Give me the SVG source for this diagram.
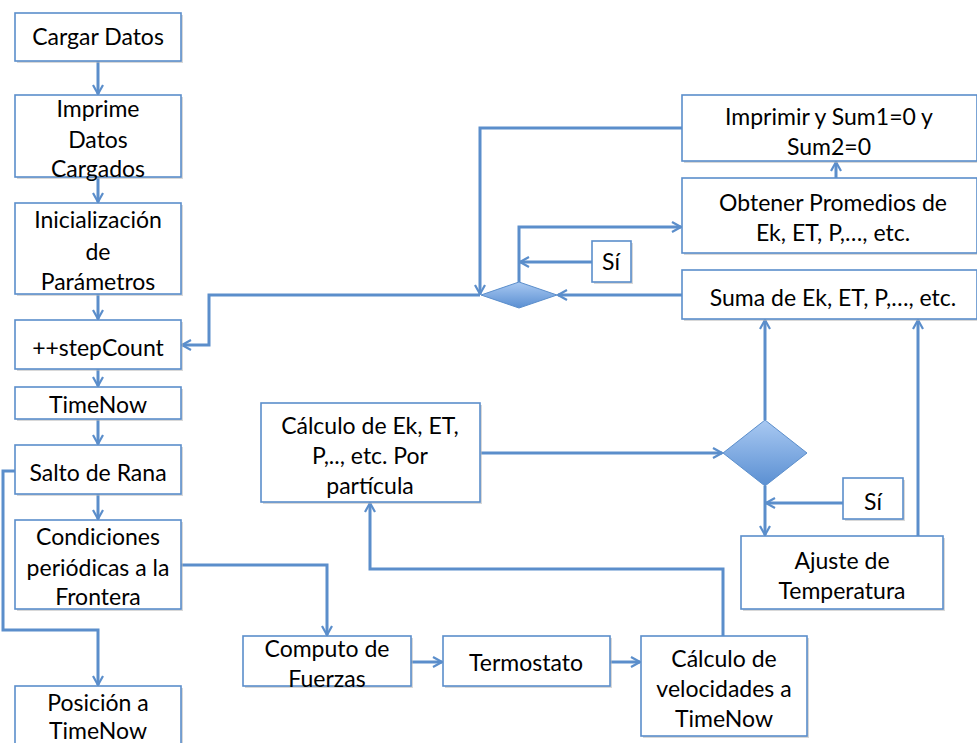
<svg xmlns="http://www.w3.org/2000/svg" width="977" height="743" viewBox="0 0 977 743">
  <style>
    .box { fill: #ffffff; stroke: #5b8ecb; stroke-width: 1.6; }
    .shadow { fill: #b8b8b8; opacity: 0.55; }
    .label { font-family: Lato, "Liberation Sans", sans-serif; font-size: 23px; fill: #000; text-anchor: middle; }
    .conn { fill: none; stroke: #5b8ecb; stroke-width: 3; stroke-linejoin: miter; }
    .dia { fill: url(#diaFill); stroke: #5b8ecb; stroke-width: 1; }
  </style>
  <defs>
    <linearGradient id="diaFill" x1="0" y1="0" x2="0" y2="1">
      <stop offset="0" stop-color="#a9c9f2"/>
      <stop offset="1" stop-color="#5a8fd2"/>
    </linearGradient>
    <marker id="arrow" viewBox="0 0 12 12" refX="11" refY="6" markerWidth="12" markerHeight="12" markerUnits="userSpaceOnUse" orient="auto">
      <polyline points="2,1 11,6 2,11" fill="none" stroke="#5b8ecb" stroke-width="2.2"/>
    </marker>
  </defs>

  <!-- connectors -->
  <g id="connectors">
    <path class="conn" marker-end="url(#arrow)" d="M98,61 V94"/>
    <path class="conn" marker-end="url(#arrow)" d="M98,177 V202"/>
    <path class="conn" marker-end="url(#arrow)" d="M98,294 V319"/>
    <path class="conn" marker-end="url(#arrow)" d="M98,369 V386"/>
    <path class="conn" marker-end="url(#arrow)" d="M98,419 V444"/>
    <path class="conn" marker-end="url(#arrow)" d="M98,494 V519"/>
    <!-- Salto de Rana -> Posición -->
    <path class="conn" marker-end="url(#arrow)" d="M15,471 H3 V630 H98 V685"/>
    <!-- Condiciones -> Computo de Fuerzas -->
    <path class="conn" marker-end="url(#arrow)" d="M181,565 H327 V635"/>
    <path class="conn" marker-end="url(#arrow)" d="M411,662 H442"/>
    <path class="conn" marker-end="url(#arrow)" d="M610,662 H640"/>
    <!-- Cálculo velocidades -> Cálculo por partícula -->
    <path class="conn" marker-end="url(#arrow)" d="M723,636 V569 H370 V503"/>
    <!-- Cálculo por partícula -> decision -->
    <path class="conn" marker-end="url(#arrow)" d="M481,453 H722"/>
    <path class="conn" marker-end="url(#arrow)" d="M765,420 V320"/>
    <path class="conn" marker-end="url(#arrow)" d="M843,503 H766"/>
    <path class="conn" marker-end="url(#arrow)" d="M765,486 V535"/>
    <path class="conn" marker-end="url(#arrow)" d="M918,536 V320"/>
    <!-- upper loop -->
    <path class="conn" marker-end="url(#arrow)" d="M682,295 H558"/>
    <path class="conn" marker-end="url(#arrow)" d="M519,282 V227 H681"/>
    <path class="conn" marker-end="url(#arrow)" d="M592,262 H520"/>
    <path class="conn" marker-end="url(#arrow)" d="M836,178 V162"/>
    <path class="conn" marker-end="url(#arrow)" d="M682,128 H480 V294"/>
    <path class="conn" marker-end="url(#arrow)" d="M480,295 H209 V345 H182"/>
  </g>

  <g id="cargar-datos">
    <rect class="shadow" x="17" y="15" width="166" height="48"/>
    <rect class="box" x="15" y="13" width="166" height="48"/>
    <text class="label" x="98" y="45">Cargar Datos</text>
  </g>
  <g id="imprime-datos">
    <rect class="shadow" x="17" y="97" width="166" height="82"/>
    <rect class="box" x="15" y="95" width="166" height="82"/>
    <text class="label" x="98" y="117">Imprime</text>
    <text class="label" x="98" y="148">Datos</text>
    <text class="label" x="98" y="177">Cargados</text>
  </g>
  <g id="inicializacion">
    <rect class="shadow" x="17" y="205" width="166" height="91"/>
    <rect class="box" x="15" y="203" width="166" height="91"/>
    <text class="label" x="98" y="228">Inicialización</text>
    <text class="label" x="98" y="260">de</text>
    <text class="label" x="98" y="290">Parámetros</text>
  </g>
  <g id="stepcount">
    <rect class="shadow" x="17" y="322" width="166" height="49"/>
    <rect class="box" x="15" y="320" width="166" height="49"/>
    <text class="label" x="98" y="356">++stepCount</text>
  </g>
  <g id="timenow">
    <rect class="shadow" x="17" y="389" width="166" height="32"/>
    <rect class="box" x="15" y="387" width="166" height="32"/>
    <text class="label" x="98" y="413">TimeNow</text>
  </g>
  <g id="salto-de-rana">
    <rect class="shadow" x="17" y="447" width="166" height="49"/>
    <rect class="box" x="15" y="445" width="166" height="49"/>
    <text class="label" x="98" y="481">Salto de Rana</text>
  </g>
  <g id="condiciones">
    <rect class="shadow" x="17" y="522" width="166" height="89"/>
    <rect class="box" x="15" y="520" width="166" height="89"/>
    <text class="label" x="98" y="545">Condiciones</text>
    <text class="label" x="98" y="576">periódicas a la</text>
    <text class="label" x="98" y="605">Frontera</text>
  </g>
  <g id="posicion">
    <rect class="shadow" x="17" y="688" width="166" height="60"/>
    <rect class="box" x="15" y="686" width="166" height="60"/>
    <text class="label" x="98" y="711">Posición a</text>
    <text class="label" x="98" y="739">TimeNow</text>
  </g>

  <g id="computo-fuerzas">
    <rect class="shadow" x="245" y="638" width="168" height="50"/>
    <rect class="box" x="243" y="636" width="168" height="50"/>
    <text class="label" x="327" y="657">Computo de</text>
    <text class="label" x="327" y="687">Fuerzas</text>
  </g>
  <g id="termostato">
    <rect class="shadow" x="445" y="638" width="167" height="50"/>
    <rect class="box" x="443" y="636" width="167" height="50"/>
    <text class="label" x="526" y="671">Termostato</text>
  </g>
  <g id="calculo-velocidades">
    <rect class="shadow" x="643" y="638" width="166" height="100"/>
    <rect class="box" x="641" y="636" width="166" height="100"/>
    <text class="label" x="724" y="667">Cálculo de</text>
    <text class="label" x="724" y="697">velocidades a</text>
    <text class="label" x="724" y="727">TimeNow</text>
  </g>
  <g id="calculo-particula">
    <rect class="shadow" x="263" y="405" width="219" height="99"/>
    <rect class="box" x="261" y="403" width="219" height="99"/>
    <text class="label" x="370" y="434">Cálculo de Ek, ET,</text>
    <text class="label" x="370" y="464">P,.., etc. Por</text>
    <text class="label" x="370" y="494">partícula</text>
  </g>
  <g id="decision-temp">
    <polygon class="dia" points="765,420 807,453 765,486 723,453"/>
  </g>
  <g id="si-temp">
    <rect class="shadow" x="845" y="480" width="60" height="41"/>
    <rect class="box" x="843" y="478" width="60" height="41"/>
    <text class="label" x="873" y="510">Sí</text>
  </g>
  <g id="ajuste-temperatura">
    <rect class="shadow" x="743" y="538" width="202" height="73"/>
    <rect class="box" x="741" y="536" width="202" height="73"/>
    <text class="label" x="842" y="569">Ajuste de</text>
    <text class="label" x="842" y="599">Temperatura</text>
  </g>
  <g id="suma">
    <rect class="shadow" x="684" y="272" width="295" height="49"/>
    <rect class="box" x="682" y="270" width="295" height="49"/>
    <text class="label" x="833" y="306">Suma de Ek, ET, P,…, etc.</text>
  </g>
  <g id="promedios">
    <rect class="shadow" x="684" y="180" width="295" height="75"/>
    <rect class="box" x="682" y="178" width="295" height="75"/>
    <text class="label" x="833" y="211">Obtener Promedios de</text>
    <text class="label" x="833" y="241">Ek, ET, P,…, etc.</text>
  </g>
  <g id="imprimir-sum">
    <rect class="shadow" x="684" y="97" width="295" height="66"/>
    <rect class="box" x="682" y="95" width="295" height="66"/>
    <text class="label" x="829" y="125">Imprimir y Sum1=0 y</text>
    <text class="label" x="829" y="155">Sum2=0</text>
  </g>
  <g id="decision-promedio">
    <polygon class="dia" points="519,282 557,295 519,308 481,295"/>
  </g>
  <g id="si-promedio">
    <rect class="shadow" x="594" y="243" width="39" height="41"/>
    <rect class="box" x="592" y="241" width="39" height="41"/>
    <text class="label" x="611" y="270">Sí</text>
  </g>
</svg>
